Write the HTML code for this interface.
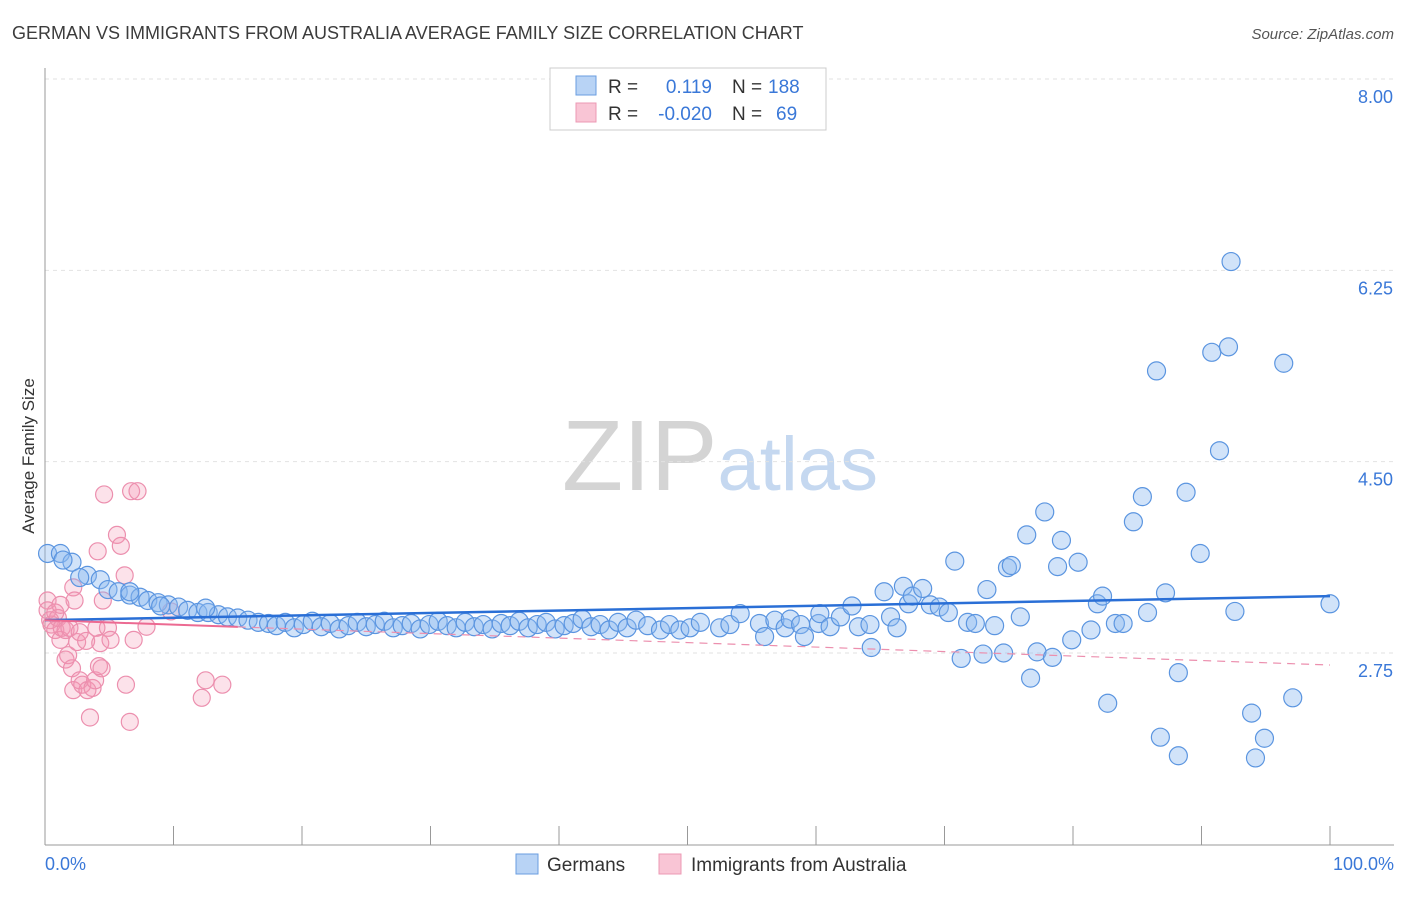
<!DOCTYPE html>
<html><head><meta charset="utf-8"><style>
body{margin:0;background:#fff;font-family:"Liberation Sans",sans-serif;}
svg text{font-family:"Liberation Sans",sans-serif;}
</style></head><body>
<svg id="chart" width="1406" height="892" xmlns="http://www.w3.org/2000/svg">
<text x="12" y="39" font-size="18" fill="#3c3c3c">GERMAN VS IMMIGRANTS FROM AUSTRALIA AVERAGE FAMILY SIZE CORRELATION CHART</text>
<text x="1394" y="39" font-size="15" fill="#555" text-anchor="end" font-style="italic">Source: ZipAtlas.com</text>
<text transform="translate(34,456) rotate(-90)" font-size="17" fill="#333" text-anchor="middle">Average Family Size</text>
<text x="720" y="490" font-size="100" fill="#d8d8d8" text-anchor="middle" font-family="Liberation Serif"><tspan fill="#d4d4d4">ZIP</tspan><tspan fill="#c5d8f0" font-family="Liberation Sans" font-size="76">atlas</tspan></text>
<g id="grid"></g><g id="axes"></g><g id="pink"></g><g id="blue"></g><g id="trends"></g>
<g>
<rect x="550" y="68" width="276" height="62" fill="#fff" stroke="#ccc"/>
<rect x="576" y="76" width="20" height="19" fill="#b8d3f5" stroke="#6a9ee0"/>
<rect x="576" y="103" width="20" height="19" fill="#f9c5d5" stroke="#ec99b4"/>
<text x="608" y="93" font-size="19" fill="#333">R =</text><text x="712" y="93" font-size="19" fill="#3a78d8" text-anchor="end">0.119</text>
<text x="732" y="93" font-size="19" fill="#333">N =</text><text x="768" y="93" font-size="19" fill="#3a78d8">188</text>
<text x="608" y="120" font-size="19" fill="#333">R =</text><text x="712" y="120" font-size="19" fill="#3a78d8" text-anchor="end">-0.020</text>
<text x="732" y="120" font-size="19" fill="#333">N =</text><text x="776" y="120" font-size="19" fill="#3a78d8">69</text>
</g>
<g>
<rect x="516" y="854" width="22" height="20" fill="#b8d3f5" stroke="#6a9ee0"/>
<text x="547" y="871" font-size="19" fill="#333">Germans</text>
<rect x="659" y="854" width="22" height="20" fill="#f9c5d5" stroke="#ec99b4"/>
<text x="691" y="871" font-size="19" fill="#333">Immigrants from Australia</text>
</g>
<text x="45" y="870" font-size="18" fill="#3a78d8">0.0%</text>
<text x="1394" y="870" font-size="18" fill="#3a78d8" text-anchor="end">100.0%</text>
</svg>
<script>
const yTicks=[8.00,6.25,4.50,2.75];
const yTickLabels=["8.00","6.25","4.50","2.75"];
const xTicks=[0,10,20,30,40,50,60,70,80,90,100];
const germansX=[0.2,1.2,2.1,3.3,4.3,4.9,5.7,6.6,7.4,8.0,8.8,9.6,10.4,11.1,11.9,12.7,13.5,14.2,15.0,15.8,16.6,17.4,2.7,1.4,6.6,9.0,12.5,
18.0,18.7,19.4,20.1,20.8,21.5,22.2,22.9,23.6,24.3,25.0,25.7,26.4,27.1,27.8,28.5,29.2,29.9,30.6,31.3,32.0,32.7,33.4,34.1,34.8,35.5,36.2,36.9,37.6,38.3,39.0,39.7,40.4,41.1,41.8,42.5,43.2,43.9,44.6,45.3,46.0,
46.9,47.9,48.6,49.4,50.2,51.0,52.5,53.3,54.1,55.6,56.0,56.8,57.6,58.0,58.8,59.1,60.2,60.3,61.1,61.9,
62.8,63.3,64.2,64.3,65.3,65.8,66.3,66.8,67.2,67.5,68.3,68.9,69.6,70.3,70.8,71.3,71.8,72.4,73.0,73.3,73.9,74.6,74.9,75.2,75.9,76.4,76.7,77.2,77.8,78.4,78.8,79.1,79.9,80.4,81.4,81.9,82.3,82.7,83.3,83.9,84.7,85.4,85.8,86.5,86.8,87.2,88.2,88.2,88.8,89.9,90.8,91.4,92.1,92.3,92.6,93.9,94.2,94.9,96.4,97.1,100];
const germansY=[3.66,3.66,3.58,3.46,3.42,3.33,3.31,3.28,3.26,3.23,3.21,3.19,3.17,3.14,3.12,3.12,3.10,3.08,3.07,3.05,3.03,3.02,3.44,3.60,3.31,3.18,3.16,
3.00,3.03,2.98,3.01,3.04,2.99,3.02,2.97,3.00,3.03,2.99,3.01,3.04,2.98,3.00,3.02,2.97,3.01,3.04,3.00,2.98,3.03,2.99,3.01,2.97,3.02,3.00,3.04,2.98,3.01,3.03,2.97,3.00,3.02,3.06,2.99,3.01,2.96,3.03,2.98,3.05,
3.00,2.96,3.01,2.96,2.98,3.03,2.98,3.01,3.11,3.02,2.90,3.05,2.98,3.06,3.01,2.90,3.02,3.11,2.99,3.08,
3.18,2.99,3.01,2.80,3.31,3.08,2.98,3.36,3.20,3.27,3.34,3.19,3.17,3.12,3.59,2.70,3.03,3.02,2.74,3.33,3.00,2.75,3.53,3.55,3.08,3.83,2.52,2.76,4.04,2.71,3.54,3.78,2.87,3.58,2.96,3.20,3.27,2.29,3.02,3.02,3.95,4.18,3.12,5.33,1.98,3.30,2.57,1.81,4.22,3.66,5.50,4.60,5.55,6.33,3.13,2.20,1.79,1.97,5.40,2.34,3.20];
const ausX=[0.2,0.2,0.4,0.5,0.8,1.0,1.2,1.3,1.6,1.6,1.8,1.9,2.1,2.2,2.3,2.2,2.5,2.7,2.7,2.9,3.2,3.3,3.5,3.7,3.9,4.0,4.2,4.3,4.4,4.6,4.5,4.9,5.1,5.6,5.9,4.1,6.2,6.3,6.6,6.7,7.2,7.9,9.8,12.2,12.5,13.8,6.9,0.8,1.2];
const ausY=[3.23,3.14,3.05,3.01,2.96,3.07,2.87,2.98,2.96,2.69,2.73,2.98,2.61,3.35,3.23,2.41,2.85,2.94,2.50,2.46,2.86,2.41,2.16,2.43,2.50,2.98,2.63,2.84,2.61,4.20,3.23,2.98,2.87,3.83,3.73,3.68,3.46,2.46,2.12,4.23,4.23,2.99,3.13,2.34,2.50,2.46,2.87,3.12,3.19];
const germansTrend=[3.05,3.27];
const ausTrend=[3.05,2.64];
const ausSolidEnd=15;

const X0=45,X1=1330,YTOP=79,PX=109.33;
const xs=v=>X0+(X1-X0)*v/100;
const ys=v=>YTOP+(8-v)*PX;
const NS="http://www.w3.org/2000/svg";
function mk(tag,parent,attrs){const e=document.createElementNS(NS,tag);for(const k in attrs)e.setAttribute(k,attrs[k]);document.getElementById(parent).appendChild(e);return e;}
yTicks.forEach((t,i)=>{
 const l=mk('line','grid',{x1:45,x2:1394,y1:ys(t),y2:ys(t),stroke:'#e2e2e2','stroke-dasharray':'4,4'});
 
 
 const tx=mk('text','grid',{x:1393,y:ys(t)+24,'font-size':18,fill:'#3a78d8','text-anchor':'end'});
 tx.textContent=yTickLabels[i];
 
 
});
const ax=mk('line','axes',{x1:45,x2:45,y1:68,y2:845,stroke:'#999'});


const bx=mk('line','axes',{x1:45,x2:1394,y1:845,y2:845,stroke:'#999'});


xTicks.forEach(t=>{
 const l=mk('line','axes',{x1:xs(t),x2:xs(t),y1:826,y2:845,stroke:'#999'});
 
 
});
ausX.forEach((x,i)=>{
 const c=mk('circle','pink',{cx:xs(x),cy:ys(ausY[i]),r:8.5,fill:'rgba(245,150,180,0.28)',stroke:'#ec8fae','stroke-width':1.2});
 
 
});
germansX.forEach((x,i)=>{
 const c=mk('circle','blue',{cx:xs(x),cy:ys(germansY[i]),r:9,fill:'rgba(140,185,240,0.4)',stroke:'#5b95e0','stroke-width':1.2});
 
 
});
const gt=mk('line','trends',{x1:xs(0),y1:ys(germansTrend[0]),x2:xs(100),y2:ys(germansTrend[1]),stroke:'#2a6fd6','stroke-width':2.5});


const aMid=ausTrend[0]+(ausTrend[1]-ausTrend[0])*ausSolidEnd/100;
const at=mk('line','trends',{x1:xs(0),y1:ys(ausTrend[0]),x2:xs(ausSolidEnd),y2:ys(aMid),stroke:'#ec6a92','stroke-width':2});


const ad=mk('line','trends',{x1:xs(ausSolidEnd),y1:ys(aMid),x2:xs(100),y2:ys(ausTrend[1]),stroke:'#ec8fae','stroke-width':1.2,'stroke-dasharray':'8,6'});


</script>
</body></html>
